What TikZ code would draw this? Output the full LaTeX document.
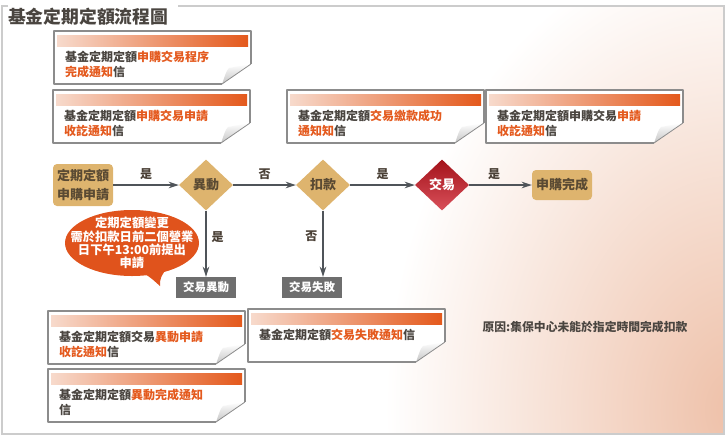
\documentclass[tikz,border=0pt]{standalone}
\usepackage{fontspec}
\setmainfont{Noto Sans CJK TC}
\usetikzlibrary{arrows.meta,shapes.geometric,calc}
\definecolor{lineclr}{HTML}{4F5459}
\definecolor{labelclr}{HTML}{4A4036}
\definecolor{tanclr}{HTML}{DEB46E}
\definecolor{tantxt}{HTML}{5A4A33}
\definecolor{boxgray}{HTML}{6E6E6E}
\definecolor{cardtxt}{HTML}{4A4540}
\definecolor{notetxt}{HTML}{E45A1E}
\definecolor{barlight}{HTML}{F7DACC}
\definecolor{barorange}{HTML}{E4591C}
\definecolor{cardline}{HTML}{8C8C8C}
\definecolor{foldgray}{HTML}{C4C4C4}
\definecolor{redtop}{HTML}{A3121A}
\definecolor{redbot}{HTML}{D9505A}
\definecolor{bubbleclr}{HTML}{E0531C}
\definecolor{frameclr}{HTML}{CCCCCC}
\definecolor{peach}{HTML}{EEC0A8}
\newcommand{\ora}[1]{\textcolor{notetxt}{#1}}
\newcommand{\lettercard}[4]{%
  \begin{scope}[shift={(#2,#3)}]
    \fill[white] (0,0) -- (197,0) -- (197,33) -- (168,53) -- (0,53) -- cycle;
    \shade[left color=barlight, right color=barorange] (3,4) rectangle (194,15);
    \shade[top color=white, bottom color=foldgray] (168,53) .. controls (171,45) and (172,40) .. (175,37) -- (197,33) -- cycle;
    \draw[cardline, line width=1.6pt, line join=round] (168,53) -- (0,53) -- (0,0) -- (197,0) -- (197,33);
    \draw[cardline, line width=0.8pt] (197,33) -- (168,53);
    \node[cardtext] (#1) at (11,20) {#4};
  \end{scope}}

\begin{document}
\begin{tikzpicture}[x=1pt,y=-1pt,
    flow/.style={draw=lineclr, line width=1.4pt, -{Stealth[length=10pt,width=6.5pt,inset=3pt]}},
    lbl/.style={font=\bfseries\fontsize{12}{12}\selectfont, text=labelclr, inner sep=1pt},
    tanbox/.style={rectangle, rounded corners=4pt, fill=tanclr, text=tantxt, font=\bfseries\fontsize{13}{19}\selectfont, align=center, inner sep=0pt},
    choice/.style={diamond, fill=tanclr, text=tantxt, font=\bfseries\fontsize{13}{13}\selectfont, minimum width=54pt, minimum height=51pt, inner sep=0pt},
    endbox/.style={rectangle, fill=boxgray, text=white, font=\bfseries\fontsize{11.5}{11.5}\selectfont, minimum width=60pt, minimum height=21pt, inner sep=0pt},
    cardtext/.style={font=\bfseries\fontsize{12}{15}\selectfont, text=cardtxt, align=left, inner sep=0pt, anchor=north west}]
  \useasboundingbox (0,0) rectangle (726,440);
  \begin{scope}
    \clip (2,6) rectangle (724,434);
    \shade[inner color=peach, outer color=white] (735,410) ellipse [x radius=350pt, y radius=470pt];
  \end{scope}
  \draw[frameclr, line width=1.5pt] (8,6) -- (2,6) -- (2,434) -- (724,434) -- (724,6) -- (178,6);
  \node[anchor=west, font=\bfseries\fontsize{17.8}{17.8}\selectfont, text=cardtxt, inner sep=0pt] (title) at (8,17) {基金定期定額流程圖};

  \lettercard{c1}{54}{31}{基金定期定額\ora{申購交易程序}\\\ora{完成通知}信}
  \lettercard{c2}{53}{90}{基金定期定額\ora{申購交易申請}\\\ora{收訖通知}信}
  \lettercard{c3}{287}{90}{基金定期定額\ora{交易繳款成功}\\\ora{通知知}信}
  \lettercard{c4}{486}{90}{基金定期定額申購交易\ora{申請}\\\ora{收訖通知}信}
  \lettercard{c5}{48}{311}{基金定期定額交易\ora{異動申請}\\\ora{收訖通知}信}
  \lettercard{c6}{248}{309}{基金定期定額\ora{交易失敗通知}信}
  \lettercard{c7}{48}{369}{基金定期定額\ora{異動完成通知}\\信}

  \node[tanbox, minimum width=60pt, minimum height=42pt] (start) at (83,185) {定期定額\\申購申請};
  \node[choice] (change) at (206,185) {異動};
  \node[choice] (debit) at (323,185) {扣款};
  \node[choice, fill=none, top color=redtop, bottom color=redbot, text=white] (trade) at (442,185) {交易};
  \node[tanbox, minimum width=60pt, minimum height=30pt] (done) at (562,185) {申購完成};
  \node[endbox] (chg) at (206,287.5) {交易異動};
  \node[endbox] (fail) at (312,287.5) {交易失敗};

  \draw[flow] (start) -- node[lbl, above=4pt] {是} (change);
  \draw[flow] (change) -- node[lbl, above=4pt] {否} (debit);
  \draw[flow] (debit) -- node[lbl, above=4pt] {是} (trade);
  \draw[flow] (trade) -- node[lbl, above=4pt, pos=0.4] {是} (done);
  \draw[flow] (change) -- node[lbl, right=4pt, pos=0.4] {是} (chg);
  \draw[flow] (debit.south) -- node[lbl, left=4pt, pos=0.38] {否} (debit.south |- fail.north);

  \fill[bubbleclr] (132,243) ellipse [x radius=67pt, y radius=33pt];
  \fill[bubbleclr] (138,270) .. controls (150,277) .. (160,286) .. controls (160,278) .. (170,263) -- cycle;
  \node[font=\bfseries\fontsize{12.3}{13.3}\selectfont, text=white, align=center, inner sep=0pt] (memo) at (132,243) {定期定額變更\\需於扣款日前二個營業\\日下午13:00前提出\\申請};

  \node[font=\bfseries\fontsize{11.8}{11.8}\selectfont, text=cardtxt, inner sep=0pt] (reason) at (585,327) {原因:集保中心未能於指定時間完成扣款};
\end{tikzpicture}
\end{document}
